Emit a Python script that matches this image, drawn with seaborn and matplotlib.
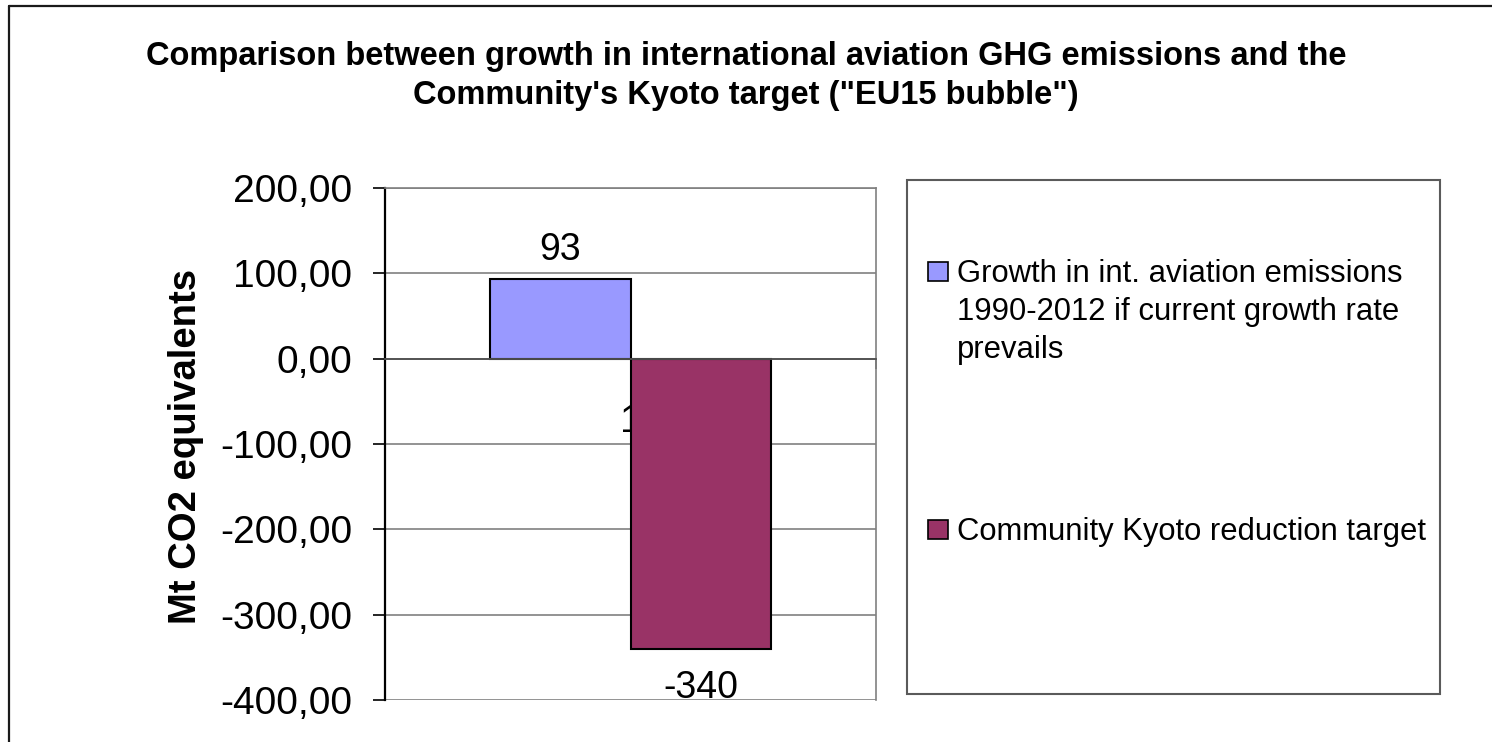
import matplotlib
matplotlib.use("Agg")
import matplotlib.pyplot as plt
import seaborn as sns
import pandas as pd
from matplotlib.lines import Line2D
from matplotlib.patches import Rectangle

# ---- data ----
categories = ["1"]
series = ["Growth in int. aviation emissions\n1990-2012 if current growth rate\nprevails",
          "Community Kyoto reduction target"]
values = [93, -340]
value_labels = ["93", "-340"]
colors = ["#9999FF", "#993366"]
y_ticks = [200, 100, 0, -100, -200, -300, -400]
title = ("Comparison between growth in international aviation GHG emissions and the\n"
         "Community's Kyoto target (\"EU15 bubble\")")
y_label = "Mt CO2 equivalents"

sns.set_theme(style="white")
plt.rcParams['font.family'] = ['Liberation Sans', 'DejaVu Sans']

W, H = 1492, 742
PT = 72 / 100.0  # points per pixel at dpi 100
fig = plt.figure(figsize=(W / 100, H / 100), dpi=100)
fig.patch.set_facecolor("white")

def fx(px):
    return px / W

def fy(py):
    return 1 - py / H

ax = fig.add_axes([fx(385), fy(700), (876 - 385) / W, (700 - 188) / H])

df = pd.DataFrame({"cat": categories * len(series), "series": series, "value": values})
sns.barplot(data=df, x="cat", y="value", hue="series", hue_order=series,
            palette=colors, saturation=1, width=0.571, errorbar=None,
            edgecolor="black", linewidth=1.5, ax=ax, legend=False)

ax.set_xlim(-0.5, 0.5)
ax.set_ylim(min(y_ticks), max(y_ticks))
ax.set_yticks(y_ticks)
ax.set_yticklabels([f"{v:.2f}".replace(".", ",") for v in y_ticks])
ax.set_axisbelow(True)
ax.yaxis.grid(True, color="#808080", linewidth=1.2)
ax.xaxis.grid(False)

# spines
for s in ["top", "right"]:
    ax.spines[s].set_color("#808080")
    ax.spines[s].set_linewidth(1.2)
ax.spines["left"].set_color("black")
ax.spines["left"].set_linewidth(1.6)
ax.spines["bottom"].set_position(("data", 0))
ax.spines["bottom"].set_color("#505050")
ax.spines["bottom"].set_linewidth(1.3)

ax.tick_params(axis="y", direction="out", length=12 * PT, width=1.2, color="black",
               labelsize=28, pad=15, left=True, labelcolor="black")

# category axis at zero: boundary ticks, category label below zero
ax.set_xticks([-0.5, 0.5])
ax.set_xticklabels(["", ""])
ax.set_xticks([0], minor=True)
ax.set_xticklabels(categories, minor=True)
ax.tick_params(axis="x", which="major", direction="out", length=10 * PT, width=1.2,
               color="#505050", bottom=True)
ax.tick_params(axis="x", which="minor", length=0, labelsize=28, pad=45 * PT,
               labelcolor="black", bottom=True)
ax.set_xlabel("")

# y label
ax.set_ylabel(y_label, fontsize=27.5, fontweight="bold", color="black")
ax.yaxis.set_label_coords((204 - 385) / 491, (700 - 446) / 512)

# data labels
pads = [8, 15]
for cont, lab, p in zip(ax.containers, value_labels, pads):
    ax.bar_label(cont, labels=[lab], padding=p, fontsize=27, color="black")

# title
fig.text(fx(746), fy(76), title, ha="center", va="center", fontsize=23.5,
         fontweight="bold", color="black", linespacing=1.32)

# legend box (manual, Excel style)
fig.add_artist(Rectangle((fx(907), fy(694)), (1440 - 907) / W, (694 - 180) / H,
                         transform=fig.transFigure, facecolor="white",
                         edgecolor="#5a5a5a", linewidth=1.5))
leg_y = [262, 520]
for col, lab, y0 in zip(colors, series, leg_y):
    fig.add_artist(Rectangle((fx(928), fy(y0 + 19)), 20 / W, 19 / H,
                             transform=fig.transFigure, facecolor=col,
                             edgecolor="black", linewidth=1.2))
    fig.text(fx(957), fy(y0 - 3), lab, ha="left", va="top", fontsize=22.3,
             color="black", linespacing=1.34)

# outer chart border (left and top visible)
fig.add_artist(Line2D([fx(9), fx(9)], [fy(6), 0], transform=fig.transFigure,
                      color="#1a1a1a", linewidth=1.6))
fig.add_artist(Line2D([fx(9), 1], [fy(6), fy(6)], transform=fig.transFigure,
                      color="#1a1a1a", linewidth=1.6))

fig.savefig("out.png", dpi=100, facecolor="white")
